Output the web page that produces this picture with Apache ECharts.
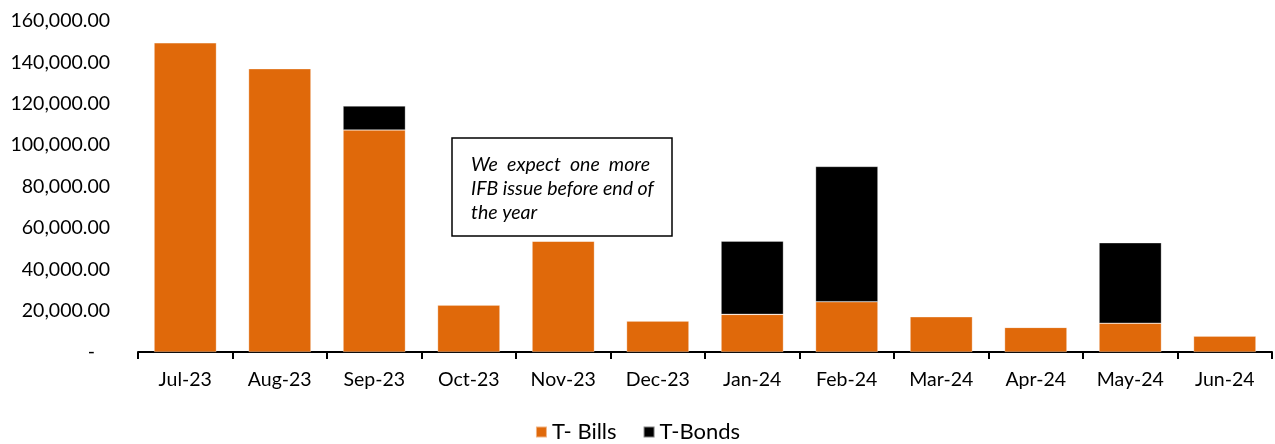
<!DOCTYPE html>
<html>
<head>
<meta charset="utf-8">
<script src="https://cdn.jsdelivr.net/npm/echarts@6/dist/echarts.min.js"></script>
<style>
  html, body { margin: 0; padding: 0; background: #fff; }
  #chart { width: 1275px; height: 444px; }
</style>
</head>
<body>
<div id="chart"></div>
<script>
// Monthly government securities issuance, split by instrument
const months = ['Jul-23', 'Aug-23', 'Sep-23', 'Oct-23', 'Nov-23', 'Dec-23',
                'Jan-24', 'Feb-24', 'Mar-24', 'Apr-24', 'May-24', 'Jun-24'];
const tBills = [149500, 137000, 107300, 22700, 53600, 15000,
                18200, 24300, 17100, 11900, 13900, 7700];
const tBonds = [0, 0, 11600, 0, 0, 0,
                35400, 65400, 0, 0, 38900, 0];
const seriesNames = ['T- Bills', 'T-Bonds'];
const noteLines = ['We  expect  one  more', 'IFB issue before end of', 'the year'];

const FONT = 'Lato, "Open Sans", sans-serif';
const ORANGE = '#E0690A';

function fmt(v) {
  if (v === 0) return '-   ';
  return v.toLocaleString('en-US', { minimumFractionDigits: 2, maximumFractionDigits: 2 });
}

const chart = echarts.init(document.getElementById('chart'));
chart.setOption({
  animation: false,
  backgroundColor: '#ffffff',
  grid: { left: 138, right: 3, top: 21, bottom: 92, containLabel: false },
  legend: {
    bottom: -4,
    left: 'center',
    itemWidth: 11,
    itemHeight: 11,
    itemGap: 26,
    icon: 'rect',
    textStyle: { fontFamily: FONT, fontSize: 22, color: '#000' },
    data: seriesNames
  },
  xAxis: {
    type: 'category',
    data: months,
    axisLine: { lineStyle: { color: '#000', width: 2 } },
    axisTick: { show: true, inside: false, length: 7, lineStyle: { color: '#000', width: 2 } },
    axisLabel: { fontFamily: FONT, fontSize: 19.5, color: '#000', margin: 18 }
  },
  yAxis: {
    type: 'value',
    min: 0,
    max: 160000,
    interval: 20000,
    splitLine: { show: false },
    axisLine: { show: false },
    axisTick: { show: false },
    axisLabel: { fontFamily: FONT, fontSize: 19.5, color: '#000', margin: 28, formatter: fmt }
  },
  series: [
    {
      name: seriesNames[0],
      type: 'bar',
      stack: 'total',
      data: tBills,
      barWidth: '66%',
      itemStyle: { color: ORANGE, borderColor: 'rgba(255,255,255,0.5)', borderWidth: 0.6 }
    },
    {
      name: seriesNames[1],
      type: 'bar',
      stack: 'total',
      data: tBonds,
      barWidth: '66%',
      itemStyle: { color: '#000000', borderColor: 'rgba(255,255,255,0.5)', borderWidth: 0.6 }
    }
  ],
  graphic: [
    {
      type: 'rect',
      shape: { x: 452, y: 138, width: 220, height: 98 },
      style: { fill: '#fff', stroke: '#000', lineWidth: 1.5 },
      z: 100
    },
    {
      type: 'text',
      left: 471,
      top: 153,
      z: 101,
      style: {
        text: noteLines.join('\n'),
        fontFamily: FONT,
        fontStyle: 'italic',
        fontSize: 19.5,
        lineHeight: 24,
        fill: '#000'
      }
    }
  ]
});
</script>
</body>
</html>
